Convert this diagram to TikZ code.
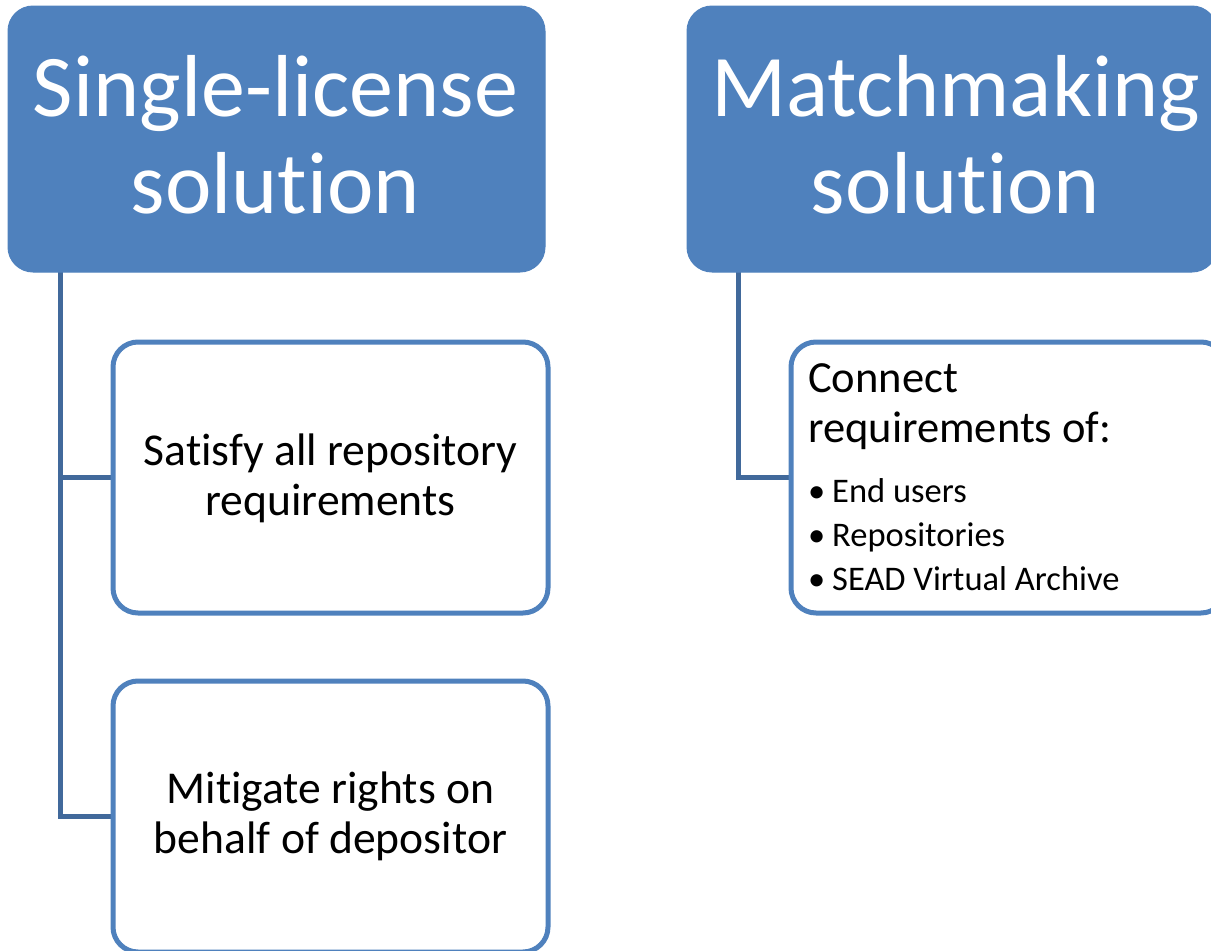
\documentclass[tikz,border=0pt]{standalone}
\usepackage{fontspec}
\setmainfont{Carlito}[Ligatures=NoCommon]
\usetikzlibrary{calc,backgrounds}
\definecolor{accent}{HTML}{4F81BD}
\definecolor{connblue}{HTML}{41699B}
\tikzset{
  headbox/.style={rectangle, rounded corners=25pt, fill=accent, draw=accent, line width=1pt,
    inner sep=0pt, outer sep=0pt},
  headtext/.style={text=white, align=center, inner sep=0pt, font=\fontsize{88}{97}\selectfont},
  childbox/.style={rectangle, rounded corners=25pt, fill=white, draw=accent, line width=5pt,
    inner sep=0pt, outer sep=0pt, minimum width=435pt, minimum height=271pt},
  boxtext/.style={text=black, align=center, inner sep=0pt, font=\fontsize{45.6}{50}\selectfont},
  conn/.style={draw=connblue, line width=5pt},
  linetext/.style={anchor=base west, inner sep=0pt, text=black, font=\fontsize{44.5}{50}\selectfont},
  bullettext/.style={anchor=base west, inner sep=0pt, text=black, font=\fontsize{34.5}{44}\selectfont}
}
\begin{document}
\begin{tikzpicture}[x=1pt,y=-1pt]
\useasboundingbox (0,0) rectangle (1211,951);
\clip (0,0) rectangle (1211,951);
% headers
\node[headbox, minimum width=537pt, minimum height=266pt] (h1) at (276.5,139) {};
\node[headbox, minimum width=530pt, minimum height=266pt] (h2) at (952,139) {};
\node[headtext] (h1t) at ($(h1.center)+(-1,-4)$) {Single-license\\solution};
\node[headtext] (h2t) at ($(h2.center)+(3.5,-4)$) {Matchmaking\\solution};
% connector anchors
\coordinate (c1) at ($(h1.south west)+(52,0)$);
\coordinate (c2) at ($(h2.south west)+(51,0)$);
% child boxes
\node[childbox] (b1) at (330.5,477.5) {};
\node[childbox] (b2) at (330.5,816.5) {};
\node[childbox] (b3) at (1008.5,477.5) {};
% connectors behind the boxes
\begin{pgfonlayer}{background}
\draw[conn] (c1) |- (b2.west);
\draw[conn] (c1) |- (b1.west);
\draw[conn] (c2) |- (b3.west);
\end{pgfonlayer}
% box texts
\node[boxtext] (b1t) at ($(b1.center)+(0,1)$) {Satisfy all repository\\requirements};
\node[boxtext] (b2t) at ($(b2.center)+(0,0)$) {Mitigate rights on\\behalf of depositor};
\node[linetext] (t1) at ($(b3.north west)+(17,50)$) {Connect};
\node[linetext] (t2) at ($(b3.north west)+(17,100)$) {requirements of:};
\node[bullettext] (u1) at ($(b3.north west)+(17,160)$) {\makebox[24pt][l]{•}End users};
\node[bullettext] (u2) at ($(b3.north west)+(17,204)$) {\makebox[24pt][l]{•}Repositories};
\node[bullettext] (u3) at ($(b3.north west)+(17,248)$) {\makebox[24pt][l]{•}SEAD Virtual Archive};
\end{tikzpicture}
\end{document}
